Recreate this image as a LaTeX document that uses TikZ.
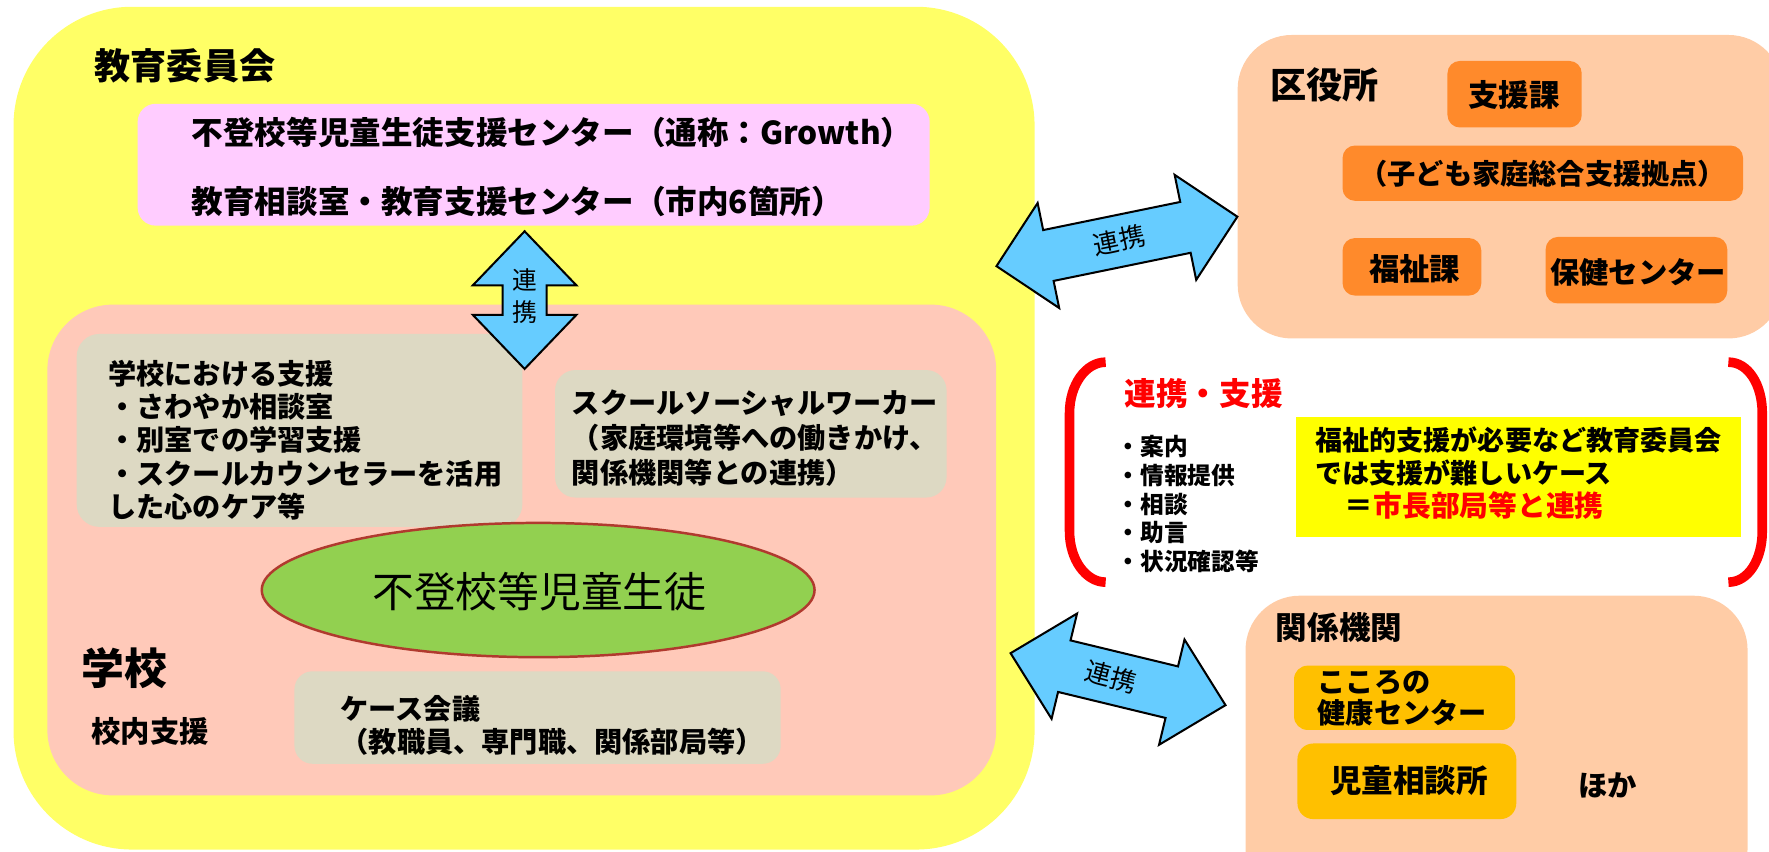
\documentclass[tikz,border=0pt]{standalone}
\usepackage{fontspec}
\setmainfont{Noto Sans CJK JP}
\usetikzlibrary{shapes.geometric}
\definecolor{yel}{HTML}{FFFF66}
\definecolor{pinkbox}{HTML}{FFCCFF}
\definecolor{salmon}{HTML}{FFC9B9}
\definecolor{greybox}{HTML}{DDD9C3}
\definecolor{greenell}{HTML}{92D050}
\definecolor{ellborder}{HTML}{B03A2E}
\definecolor{arrowblue}{HTML}{66CCFF}
\definecolor{peach}{HTML}{FFCCA6}
\definecolor{orangebox}{HTML}{FF8A2B}
\definecolor{goldbox}{HTML}{FFC000}
\definecolor{brightyellow}{HTML}{FFFF00}
\definecolor{redtxt}{HTML}{FF0000}
\newcommand\setfs[2]{\fontsize{#1}{#2}\selectfont}
\newcommand\rbox[6]{%
  \node[#1, minimum width={(#5)-(#3)}, minimum height={(#6)-(#4)}] (#2)
    at ({((#3)+(#5))/2},{((#4)+(#6))/2}) {};}
\newcommand\dblarrow[7]{%
  \begin{scope}[shift={(#1,#2)}, rotate=#3]
  \draw[blockarrow] ({-#4/2},0) -- ({-#4/2+#5},{#6}) -- ({-#4/2+#5},{#7})
    -- ({#4/2-#5},{#7}) -- ({#4/2-#5},{#6}) -- ({#4/2},0)
    -- ({#4/2-#5},{-#6}) -- ({#4/2-#5},{-#7}) -- ({-#4/2+#5},{-#7})
    -- ({-#4/2+#5},{-#6}) -- cycle;
  \end{scope}}
\tikzset{
  panel/.style={draw=none, inner sep=0, outer sep=0},
  txt/.style={inner sep=0, outer sep=0, anchor=west, align=left},
  ctxt/.style={inner sep=0, outer sep=0, anchor=center, align=center},
  blockarrow/.style={draw=black, fill=arrowblue, line width=1.8, line join=miter},
  bracket/.style={draw=redtxt, line width=8.5},
}
\begin{document}
\begin{tikzpicture}[x=1pt,y=-1pt]
\useasboundingbox (0,0) rectangle (1568,755);
\clip (0,0) rectangle (1568,755);
% ---- left panels
\rbox{panel, fill=yel, rounded corners=105}{kyoi}{12}{6}{917}{753}
\rbox{panel, fill=pinkbox, rounded corners=16}{growth}{122}{92}{824}{200}
\rbox{panel, fill=salmon, rounded corners=58}{gakko}{42}{270}{883}{705}
\rbox{panel, fill=greybox, rounded corners=20}{g1}{68}{296}{463}{467}
\rbox{panel, fill=greybox, rounded corners=18}{g2}{492}{328}{839}{441}
\rbox{panel, fill=greybox, rounded corners=16}{g3}{261}{595}{692}{677}
\node[ellipse, draw=ellborder, line width=2.2, fill=greenell, minimum width=490, minimum height=119, inner sep=0] (child) at (477,523) {};
% ---- right panels
\rbox{panel, fill=peach, rounded corners=48}{ku}{1097}{31}{1580}{300}
\rbox{panel, fill=orangebox, rounded corners=11}{shien}{1283}{54}{1402}{113}
\rbox{panel, fill=orangebox, rounded corners=11}{kodomo}{1190}{129}{1545}{178}
\rbox{panel, fill=orangebox, rounded corners=11}{fukushi}{1190}{211}{1313}{262}
\rbox{panel, fill=orangebox, rounded corners=11}{hoken}{1370}{210}{1531}{269}
\rbox{panel, fill=brightyellow}{case}{1149}{370}{1543}{476}
\rbox{panel, fill=peach, rounded corners=48}{kankei}{1104}{528}{1549}{800}
\rbox{panel, fill=goldbox, rounded corners=12}{kokoro}{1147}{590}{1343}{647}
\rbox{panel, fill=goldbox, rounded corners=14}{jido}{1150}{659}{1344}{726}
% ---- brackets
\draw[bracket] (980,321) .. controls (962.3,321) and (948,341.2) .. (948,366)
  -- (948,471) .. controls (948,495.8) and (962.3,516) .. (980,516);
\draw[bracket] (1532,321) .. controls (1549.7,321) and (1562,341.2) .. (1562,366)
  -- (1562,471) .. controls (1562,495.8) and (1549.7,516) .. (1532,516);
% ---- block arrows
\dblarrow{465}{266}{90}{122}{48}{46}{19.5}
\dblarrow{990}{214}{11.6}{218}{47}{47.5}{23}
\dblarrow{991}{602}{-13.6}{196}{49}{48}{23.5}
\node[ctxt, font=\setfs{22}{29}] (a0T) at (465,262.5) {連\\携};
\node[ctxt, font=\setfs{23}{23}, rotate=11.6] (a1T) at (992,213) {連携};
\node[ctxt, font=\setfs{23}{23}, rotate=-15] (a2T) at (985,600) {連携};
% ---- texts left
\node[txt, font=\setfs{32}{36}\bfseries] (kyoiT) at (84,58) {教育委員会};
\node[txt, font=\setfs{28}{32}\bfseries] (growthT1) at (170,117) {不登校等児童生徒支援センター（通称：Growth）};
\node[txt, font=\setfs{28}{32}\bfseries] (growthT2) at (170,179) {教育相談室・教育支援センター（市内6箇所）};
\node[txt, font=\setfs{25}{29.5}\bfseries] (g1T) at (96,390) {学校における支援\\・さわやか相談室\\・別室での学習支援\\・スクールカウンセラーを活用\\した心のケア等};
\node[txt, font=\setfs{25}{31}\bfseries] (g2T) at (507,388) {スクールソーシャルワーカー\\（家庭環境等への働きかけ、\\関係機関等との連携）};
\node[ctxt, font=\setfs{37}{40}] (childT) at (478,524) {不登校等児童生徒};
\node[txt, font=\setfs{38}{40}\bfseries] (gakkoT) at (72,592) {学校};
\node[txt, font=\setfs{26}{30}\bfseries] (konaiT) at (81,648) {校内支援};
\node[txt, font=\setfs{25}{30}\bfseries] (g3T) at (302,643) {ケース会議\\（教職員、専門職、関係部局等）};
% ---- texts right
\node[txt, font=\setfs{32}{36}\bfseries] (kuT) at (1126,75) {区役所};
\node[ctxt, font=\setfs{27}{30}\bfseries] (shienT) at (1342,84.5) {支援課};
\node[ctxt, font=\setfs{25}{30}\bfseries] (kodomoT) at (1367.5,154) {（子ども家庭総合支援拠点）};
\node[ctxt, font=\setfs{27}{30}\bfseries] (fukushiT) at (1254,238) {福祉課};
\node[ctxt, font=\setfs{26}{30}\bfseries] (hokenT) at (1452,241) {保健センター};
\node[txt, font=\setfs{28}{30}\bfseries, text=redtxt] (renkeiT) at (997,349) {連携・支援};
\node[txt, font=\setfs{21}{25.4}\bfseries] (bulletT) at (990,446.75) {・案内\\・情報提供\\・相談\\・助言\\・状況確認等};
\node[txt, font=\setfs{24}{29}\bfseries] (caseT1) at (1166,390) {福祉的支援が必要など教育委員会};
\node[txt, font=\setfs{24}{29}\bfseries] (caseT2) at (1166,419) {では支援が難しいケース};
\node[txt, font=\setfs{25.5}{29}\bfseries] (caseT3) at (1192,448) {＝\textcolor{redtxt}{市長部局等と連携}};
\node[txt, font=\setfs{28}{30}\bfseries] (kankeiT) at (1131,556) {関係機関};
\node[txt, font=\setfs{25}{28}\bfseries] (kokoroT) at (1168,619) {こころの\\健康センター};
\node[ctxt, font=\setfs{28}{30}\bfseries] (jidoT) at (1249,691.5) {児童相談所};
\node[txt, font=\setfs{26}{30}\bfseries] (hokaT) at (1399,696) {ほか};
\end{tikzpicture}
\end{document}
